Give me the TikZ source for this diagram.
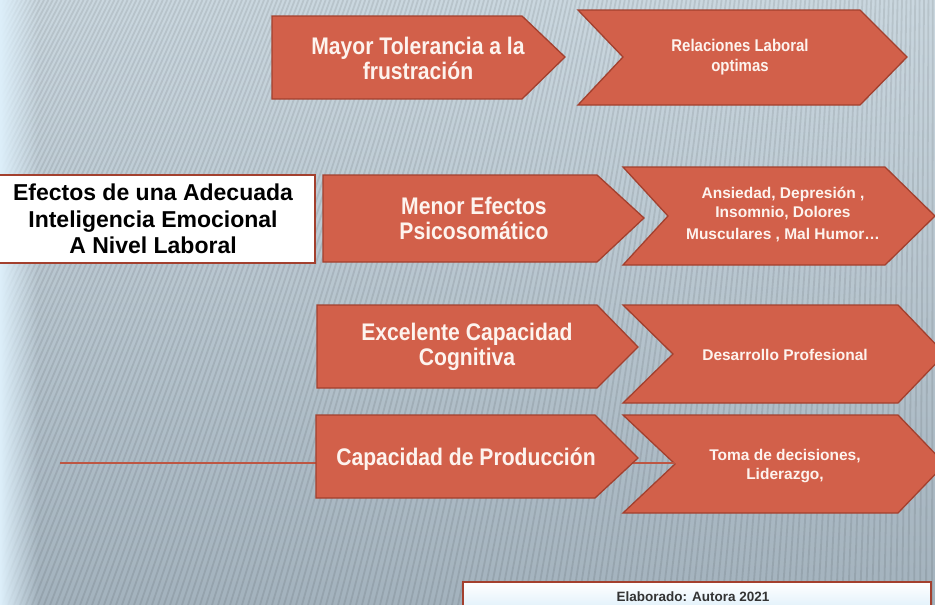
\documentclass[tikz,border=0pt]{standalone}
\usepackage{fontspec}
\setmainfont{Liberation Sans}
\newfontfamily\narrowB[FakeStretch=0.88]{Liberation Sans}
\usetikzlibrary{fadings}
\definecolor{boxfill}{HTML}{D2604A}
\definecolor{boxedge}{HTML}{A3402E}
\definecolor{txt}{HTML}{FDF3EE}
\definecolor{bgtop}{HTML}{CAD7DF}
\definecolor{bgbot}{HTML}{A3B2BD}
\definecolor{leftc}{HTML}{DDEFFA}
\tikzfading[name=fadeR, left color=transparent!0, right color=transparent!100]
\begin{document}
\begin{tikzpicture}[x=1pt,y=-1pt,
  arr/.style={fill=boxfill, draw=boxedge, line width=1.3pt, line join=miter},
  big/.style={text=txt, font=\narrowB\bfseries\fontsize{24}{25}\selectfont, align=center},
  small/.style={text=txt, font=\bfseries\fontsize{15.5}{19}\selectfont, align=center},
  smalln/.style={text=txt, font=\narrowB\bfseries\fontsize{17}{20}\selectfont, align=center},
  link/.style={draw=boxfill!90!black, line width=1.4pt}]
\useasboundingbox (0,0) rectangle (935,605);
\begin{scope}
\clip (0,0) rectangle (935,605);
\shade[top color=bgtop, bottom color=bgbot] (0,0) rectangle (935,605);
\foreach \i in {0,...,212} {
  \pgfmathsetmacro\xb{-340+\i*6}
  \pgfmathsetmacro\xt{(\xb+340)*0.73333}
  \draw[black, opacity=0.085, line width=1.8pt] (\xb,605) -- (\xt,0);
}
\fill[leftc, path fading=fadeR] (0,0) rectangle (38,605);
\end{scope}

% connector line behind shapes
\coordinate (lstart) at (60,463);
\coordinate (hnotch) at (675,463);
\draw[link] (lstart) -- (hnotch);

% row 1
\draw[arr] (272,16) -- (522,16) -- (565,57) -- (522,99) -- (272,99) -- cycle;
\node[big] (tA) at (418,58) {Mayor Tolerancia a la\\frustración};
\draw[arr] (578,10) -- (860,10) -- (907,57) -- (860,105) -- (578,105) -- (623,57) -- cycle;
\node[smalln] (tB) at (740,57) {Relaciones Laboral\\optimas};

% row 2
\draw[fill=white, draw=boxedge, line width=1.5pt] (-5,175) rectangle (315,263);
\node[text=black, font=\bfseries\fontsize{23}{26.5}\selectfont, align=center] (title) at (153,219)
  {Efectos de una Adecuada\\Inteligencia Emocional\\A Nivel Laboral};
\draw[arr] (323,175) -- (597,175) -- (644,218) -- (597,262) -- (323,262) -- cycle;
\node[big] (tC) at (474,218) {Menor Efectos\\Psicosomático};
\draw[arr] (623,167) -- (885,167) -- (935,216) -- (885,265) -- (623,265) -- (668,216) -- cycle;
\node[small] (tD) at (783,215) {Ansiedad, Depresión ,\\Insomnio, Dolores\\[3pt]Musculares , Mal Humor…};

% row 3
\draw[arr] (317,305) -- (597,305) -- (638,347) -- (597,388) -- (317,388) -- cycle;
\node[big] (tE) at (467,347) {Excelente Capacidad\\Cognitiva};
\draw[arr] (623,305) -- (898,305) -- (945,354) -- (898,403) -- (623,403) -- (673,354) -- cycle;
\node[small] (tF) at (785,355) {Desarrollo Profesional};

% row 4
\draw[arr] (316,415) -- (595,415) -- (638,458) -- (595,498) -- (316,498) -- cycle;
\node[big] (tG) at (466,459) {Capacidad de Producción};
\draw[arr] (623,415) -- (898,415) -- (945,464) -- (898,513) -- (623,513) -- (675,464) -- cycle;
\node[small] (tH) at (785,466) {Toma de decisiones,\\Liderazgo,};
\draw[link] (638,463) -- (hnotch);

% footer
\shade[top color=white, bottom color=leftc] (463,582) rectangle (931,612);
\draw[boxedge, line width=1.3pt] (463,612) -- (463,582) -- (931,582) -- (931,612);
\node[text=black!80, font=\bfseries\fontsize{13.5}{16}\selectfont] (foot) at (693,597) {Elaborado: Autora 2021};
\end{tikzpicture}
\end{document}
